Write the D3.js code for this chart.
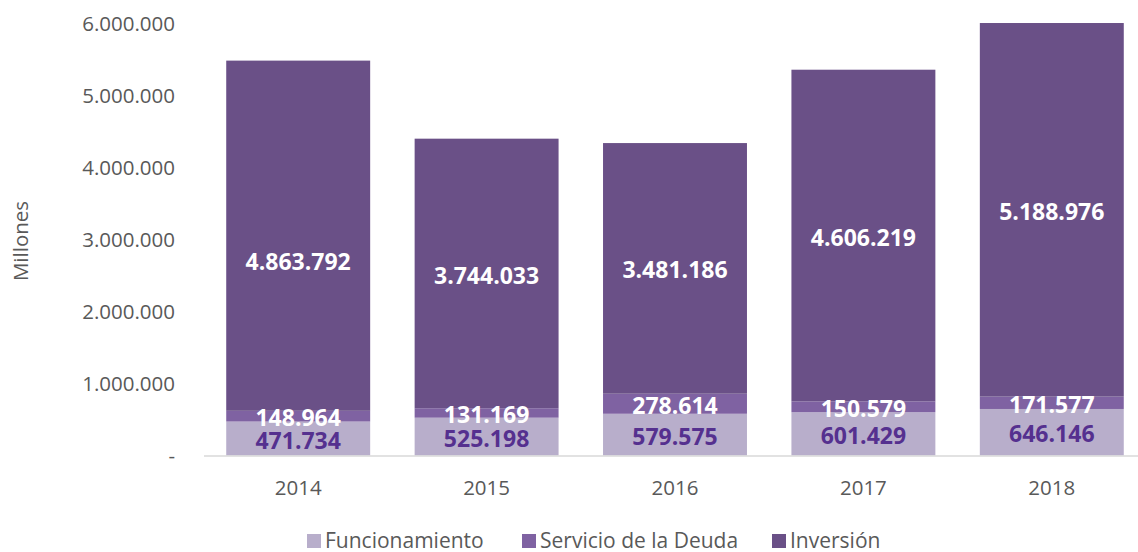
<!DOCTYPE html>
<html>
<head>
<meta charset="utf-8">
<script src="https://cdn.jsdelivr.net/npm/d3@7"></script>
<style>
  body { margin: 0; background: #fff; }
  text { font-family: "Open Sans", sans-serif; }
</style>
</head>
<body>
<script>
const years = ['2014', '2015', '2016', '2017', '2018'];
const funcionamiento = [471734, 525198, 579575, 601429, 646146];
const servicioDeuda = [148964, 131169, 278614, 150579, 171577];
const inversion = [4863792, 3744033, 3481186, 4606219, 5188976];
const yTicks = [0, 1000000, 2000000, 3000000, 4000000, 5000000, 6000000];

const width = 1138;
const height = 552;

const svg = d3.select('body').append('svg')
  .attr('width', width)
  .attr('height', height);

const x = d3.scaleBand()
  .domain(years)
  .range([204, 1146])
  .paddingInner(0.236)
  .paddingOuter(0.118);

const y = d3.scaleLinear()
  .domain([0, 6000000])
  .range([455.5, 23.5]);

const fmt = v => d3.format(',')(v).replace(/,/g, '.');

// stack layout
const keys = ['Funcionamiento', 'Servicio de la Deuda', 'Inversión'];
const colors = ['#b8aecb', '#7f62a2', '#6a5087'];
const labelColors = ['#55308f', '#ffffff', '#ffffff'];
const rows = years.map((yr, i) => ({
  year: yr,
  'Funcionamiento': funcionamiento[i],
  'Servicio de la Deuda': servicioDeuda[i],
  'Inversión': inversion[i]
}));
const series = d3.stack().keys(keys)(rows);

// y axis labels
svg.append('g')
  .selectAll('text')
  .data(yTicks)
  .enter().append('text')
  .attr('x', 175)
  .attr('y', d => y(d))
  .attr('dy', '0.35em')
  .attr('text-anchor', 'end')
  .attr('font-size', 20.5)
  .attr('fill', '#595959')
  .text(d => d === 0 ? '-' : fmt(d));

svg.append('text')
  .attr('transform', 'translate(28,241) rotate(-90)')
  .attr('text-anchor', 'middle')
  .attr('font-size', 20.5)
  .attr('fill', '#595959')
  .text('Millones');

// bars
const layer = svg.append('g')
  .selectAll('g')
  .data(series)
  .enter().append('g')
  .attr('fill', (d, i) => colors[i]);

layer.selectAll('rect')
  .data(d => d)
  .enter().append('rect')
  .attr('x', d => x(d.data.year))
  .attr('y', d => y(d[1]))
  .attr('width', x.bandwidth())
  .attr('height', d => y(d[0]) - y(d[1]));

// baseline
svg.append('line')
  .attr('x1', 204)
  .attr('x2', width)
  .attr('y1', y(0) + 0.5)
  .attr('y2', y(0) + 0.5)
  .attr('stroke', '#d9d9d9')
  .attr('stroke-width', 1.5);

// x axis labels
svg.append('g')
  .selectAll('text')
  .data(years)
  .enter().append('text')
  .attr('x', d => x(d) + x.bandwidth() / 2)
  .attr('y', 488)
  .attr('dy', '0.35em')
  .attr('text-anchor', 'middle')
  .attr('font-size', 20.5)
  .attr('fill', '#595959')
  .text(d => d);

// data labels (2014 inversion label was moved down in the original)
const nudge = { 'Inversión-2014': 24 };
series.forEach((s, si) => {
  svg.append('g')
    .selectAll('text')
    .data(s)
    .enter().append('text')
    .attr('x', d => x(d.data.year) + x.bandwidth() / 2)
    .attr('y', d => (y(d[0]) + y(d[1])) / 2 + 2 + (nudge[s.key + '-' + d.data.year] || 0))
    .attr('dy', '0.35em')
    .attr('text-anchor', 'middle')
    .attr('font-size', 23)
    .attr('font-weight', 'bold')
    .attr('fill', labelColors[si])
    .text(d => fmt(d.data[s.key]));
});

// legend
const legendX = [307, 522, 772];
const legend = svg.append('g')
  .selectAll('g')
  .data(keys)
  .enter().append('g')
  .attr('transform', (d, i) => `translate(${legendX[i]},541)`);

legend.append('rect')
  .attr('x', 0)
  .attr('y', -7)
  .attr('width', 14)
  .attr('height', 14)
  .attr('fill', (d, i) => colors[i]);

legend.append('text')
  .attr('x', 18)
  .attr('y', 0)
  .attr('dy', '0.35em')
  .attr('font-size', 21)
  .attr('fill', '#595959')
  .text(d => d);
</script>
</body>
</html>
